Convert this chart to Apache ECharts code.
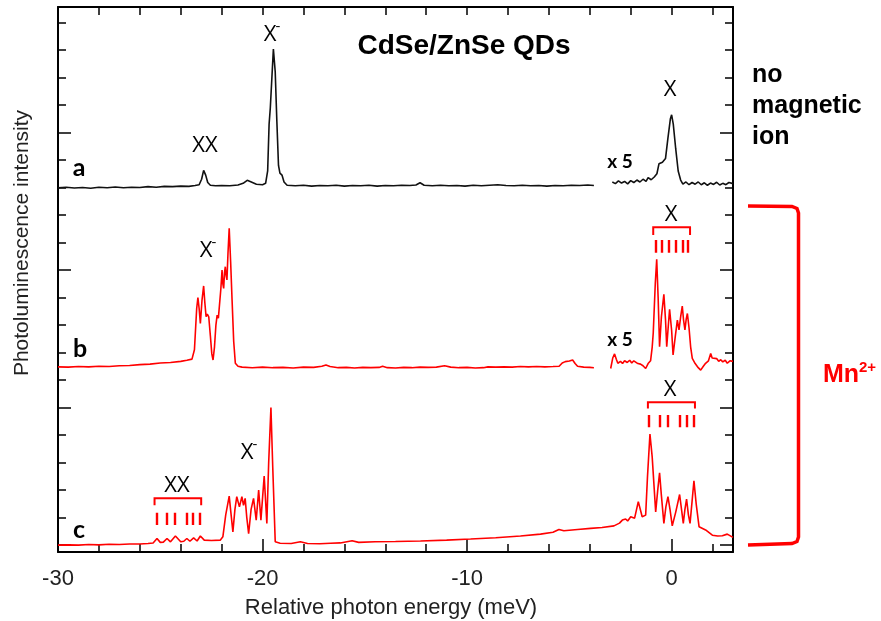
<!DOCTYPE html>
<html><head><meta charset="utf-8">
<script src="https://cdn.jsdelivr.net/npm/echarts@6/dist/echarts.min.js"></script>
<style>html,body{margin:0;padding:0;background:#fff}#c{width:881px;height:621px}</style>
</head><body><div id="c"></div>
<script>
// ---- tick values ----
const xTickLabels = [-30, -20, -10, 0];
const xMinorTicks = [-28, -26, -24, -22, -18, -16, -14, -12, -8, -6, -4, -2, 2];
const xTopTicks = [-28, -26, -24, -22, -20, -18, -16, -14, -12, -10, -8, -6, -4, -2, 0, 2];
const yMajorTicks = [0, 5, 10, 15];
const yMinorTicks = [1, 2, 3, 4, 6, 7, 8, 9, 11, 12, 13, 14, 16, 17, 18, 19];

// ---- spectrum a (no magnetic ion) ----
const specA_left = [[-30.0,12.99],[-29.6,13.01],[-29.2,12.98],[-28.8,13.0],[-28.4,12.97],[-28.0,13.01],[-27.6,12.99],[-27.2,13.02],[-26.8,12.99],[-26.4,13.01],[-26.0,13.0],[-25.6,13.03],[-25.2,13.01],[-24.8,13.04],[-24.4,13.03],[-24.0,13.05],[-23.6,13.04],[-23.3,13.07],[-23.1,13.1],[-22.98,13.3],[-22.88,13.62],[-22.78,13.45],[-22.68,13.18],[-22.55,13.08],[-22.3,13.06],[-22.0,13.07],[-21.6,13.06],[-21.2,13.09],[-20.95,13.15],[-20.75,13.26],[-20.55,13.2],[-20.3,13.12],[-20.0,13.1],[-19.85,13.15],[-19.75,13.6],[-19.68,15.3],[-19.62,15.9],[-19.55,16.9],[-19.47,18.03],[-19.38,17.2],[-19.3,15.4],[-19.22,13.8],[-19.15,13.52],[-19.05,13.45],[-18.95,13.2],[-18.8,13.08],[-18.4,13.06],[-18.0,13.08],[-17.6,13.05],[-17.2,13.07],[-16.8,13.06],[-16.4,13.08],[-16.0,13.05],[-15.6,13.07],[-15.2,13.06],[-14.8,13.08],[-14.4,13.05],[-14.0,13.07],[-13.6,13.06],[-13.2,13.08],[-12.8,13.07],[-12.5,13.09],[-12.3,13.17],[-12.1,13.08],[-11.7,13.06],[-11.3,13.08],[-10.9,13.06],[-10.5,13.07],[-10.1,13.05],[-9.7,13.08],[-9.3,13.06],[-8.9,13.08],[-8.5,13.1],[-8.1,13.07],[-7.7,13.06],[-7.3,13.08],[-6.9,13.06],[-6.5,13.07],[-6.1,13.05],[-5.7,13.07],[-5.3,13.06],[-4.9,13.08],[-4.5,13.07],[-4.1,13.09],[-3.8,13.07]];
const specA_right = [[-2.9,13.2],[-2.75,13.14],[-2.6,13.24],[-2.45,13.16],[-2.3,13.22],[-2.15,13.13],[-2.0,13.25],[-1.85,13.18],[-1.7,13.27],[-1.55,13.2],[-1.4,13.3],[-1.25,13.22],[-1.15,13.36],[-1.0,13.28],[-0.85,13.38],[-0.72,13.5],[-0.62,13.86],[-0.45,13.92],[-0.3,14.05],[-0.18,14.8],[-0.06,15.5],[0.0,15.64],[0.08,15.3],[0.2,14.4],[0.32,13.6],[0.44,13.27],[0.55,13.12],[0.7,13.2],[0.85,13.1],[1.0,13.18],[1.15,13.12],[1.3,13.2],[1.45,13.1],[1.6,13.17],[1.75,13.08],[1.9,13.16],[2.05,13.11],[2.2,13.19],[2.35,13.09],[2.5,13.15],[2.65,13.1],[2.8,13.18],[3.0,13.14]];

// ---- spectrum b (Mn2+) ----
const specB_left = [[-30.0,6.48],[-29.5,6.47],[-29.0,6.49],[-28.5,6.48],[-28.0,6.5],[-27.5,6.49],[-27.0,6.52],[-26.5,6.53],[-26.0,6.56],[-25.5,6.58],[-25.0,6.62],[-24.5,6.64],[-24.0,6.68],[-23.7,6.72],[-23.45,6.76],[-23.33,7.1],[-23.22,8.6],[-23.16,9.0],[-23.1,8.6],[-23.04,8.06],[-22.96,8.9],[-22.88,9.42],[-22.82,8.8],[-22.76,8.3],[-22.7,8.4],[-22.63,8.3],[-22.55,7.6],[-22.48,6.95],[-22.42,6.73],[-22.35,7.2],[-22.28,8.0],[-22.22,8.36],[-22.16,8.25],[-22.11,8.3],[-22.04,9.3],[-21.98,10.0],[-21.94,9.5],[-21.9,9.33],[-21.86,9.9],[-21.82,10.12],[-21.78,9.8],[-21.74,9.64],[-21.69,10.6],[-21.63,11.52],[-21.56,10.3],[-21.49,8.91],[-21.41,7.4],[-21.33,6.61],[-21.2,6.5],[-21.0,6.47],[-20.5,6.45],[-20.0,6.47],[-19.5,6.45],[-19.0,6.46],[-18.5,6.44],[-18.0,6.47],[-17.5,6.46],[-17.1,6.5],[-16.9,6.55],[-16.7,6.49],[-16.3,6.45],[-15.9,6.46],[-15.5,6.44],[-15.1,6.46],[-14.7,6.45],[-14.3,6.46],[-14.13,6.5],[-13.9,6.45],[-13.5,6.44],[-13.1,6.46],[-12.7,6.45],[-12.3,6.47],[-11.9,6.46],[-11.5,6.47],[-11.1,6.52],[-10.8,6.47],[-10.4,6.45],[-10.0,6.46],[-9.6,6.44],[-9.2,6.45],[-8.98,6.48],[-8.6,6.47],[-8.2,6.48],[-7.8,6.47],[-7.4,6.49],[-7.0,6.48],[-6.6,6.49],[-6.2,6.48],[-5.8,6.49],[-5.5,6.5],[-5.35,6.62],[-5.2,6.67],[-5.0,6.69],[-4.84,6.73],[-4.72,6.6],[-4.6,6.5],[-4.3,6.47],[-4.0,6.46],[-3.8,6.45]];
const specB_right = [[-2.98,6.42],[-2.88,6.8],[-2.79,6.95],[-2.7,6.75],[-2.63,6.61],[-2.5,6.68],[-2.4,6.6],[-2.3,6.7],[-2.17,6.64],[-2.05,6.72],[-1.95,6.62],[-1.85,6.7],[-1.76,6.7],[-1.65,6.6],[-1.52,6.58],[-1.4,6.52],[-1.27,6.42],[-1.15,6.6],[-1.03,6.7],[-0.95,7.2],[-0.9,7.7],[-0.8,9.5],[-0.73,10.39],[-0.66,9.0],[-0.59,7.21],[-0.5,8.3],[-0.38,9.12],[-0.3,8.2],[-0.24,7.21],[-0.16,8.0],[-0.1,8.57],[0.0,7.8],[0.07,6.91],[0.18,7.6],[0.28,8.18],[0.36,7.82],[0.44,8.3],[0.52,8.69],[0.58,8.2],[0.65,7.82],[0.71,8.2],[0.77,8.42],[0.85,7.9],[0.93,7.2],[1.01,6.79],[1.15,6.6],[1.3,6.45],[1.42,6.36],[1.55,6.5],[1.66,6.61],[1.8,6.7],[1.91,6.97],[1.98,6.8],[2.07,6.73],[2.2,6.78],[2.3,6.68],[2.4,6.74],[2.5,6.66],[2.62,6.72],[2.72,6.61],[2.85,6.7],[3.0,6.68]];

// ---- spectrum c (Mn2+) ----
const specC = [[-30.0,0.0],[-29.5,0.01],[-29.0,0.0],[-28.5,0.02],[-28.0,0.01],[-27.5,0.03],[-27.0,0.02],[-26.5,0.04],[-26.0,0.04],[-25.6,0.06],[-25.35,0.08],[-25.16,0.24],[-25.0,0.1],[-24.85,0.11],[-24.67,0.24],[-24.5,0.12],[-24.26,0.33],[-24.0,0.12],[-23.85,0.14],[-23.7,0.24],[-23.55,0.14],[-23.37,0.26],[-23.2,0.15],[-23.04,0.33],[-22.85,0.18],[-22.5,0.17],[-22.07,0.18],[-21.94,0.3],[-21.8,1.1],[-21.63,1.78],[-21.55,1.2],[-21.45,0.48],[-21.35,1.3],[-21.26,1.76],[-21.13,1.39],[-21.01,1.76],[-20.93,1.45],[-20.85,1.7],[-20.77,1.0],[-20.68,0.42],[-20.56,1.3],[-20.44,1.7],[-20.31,0.91],[-20.19,2.0],[-20.08,0.91],[-19.92,2.51],[-19.79,0.79],[-19.7,3.0],[-19.59,5.0],[-19.5,2.8],[-19.38,0.12],[-19.14,0.07],[-18.6,0.06],[-18.15,0.12],[-17.8,0.06],[-17.2,0.05],[-16.68,0.07],[-16.2,0.08],[-15.62,0.16],[-15.3,0.1],[-14.5,0.12],[-13.5,0.13],[-12.28,0.15],[-11.0,0.18],[-9.83,0.22],[-8.6,0.27],[-7.39,0.33],[-6.41,0.4],[-5.8,0.47],[-5.51,0.57],[-5.27,0.52],[-4.6,0.57],[-3.96,0.61],[-3.4,0.64],[-2.82,0.7],[-2.55,0.8],[-2.41,0.91],[-2.25,0.95],[-2.15,0.88],[-2.0,1.03],[-1.81,0.98],[-1.63,1.58],[-1.44,1.03],[-1.27,1.09],[-1.18,2.5],[-1.06,4.04],[-0.95,3.2],[-0.78,1.21],[-0.68,2.0],[-0.59,2.63],[-0.5,1.8],[-0.38,0.79],[-0.28,1.4],[-0.18,1.76],[-0.08,1.3],[0.03,0.7],[0.2,1.2],[0.39,1.84],[0.5,1.2],[0.57,0.79],[0.65,1.3],[0.73,1.67],[0.82,1.1],[0.9,0.79],[1.0,1.6],[1.09,2.34],[1.2,1.5],[1.34,0.67],[1.66,0.55],[1.99,0.36],[2.25,0.33],[2.48,0.34],[2.72,0.4],[3.0,0.28]];

// ---- annotation brackets (data units): [xStart, xEnd, yTop, yEnd] and dash positions ----
const bracketBX = [-0.9, 0.9, 11.55, 11.27];
const dashesBX = [-0.78, -0.46, -0.13, 0.2, 0.52, 0.77];
const dashBXRange = [11.09, 10.63];
const bracketCXX = [-25.28, -23.0, 1.7, 1.45];
const dashesCXX = [-25.16, -24.67, -24.3, -23.7, -23.41, -23.09];
const dashCXXRange = [1.18, 0.73];
const bracketCX = [-1.16, 1.14, 5.19, 4.97];
const dashesCX = [-1.11, -0.59, -0.18, 0.39, 0.73, 1.06];
const dashCXRange = [4.73, 4.28];

const RED = '#ff0000';
const chart = echarts.init(document.getElementById('c'), null, {renderer: 'canvas'});

function bracket(b) { return {coords: [[b[0], b[3]], [b[0], b[2]], [b[1], b[2]], [b[1], b[3]]]}; }
function dashes(xs, r) { return xs.map(x => ({coords: [[x, r[0]], [x, r[1]]]})); }

const yMin = -0.25, yMax = 19.56;
const axisLineStyle = {color: '#000', width: 2};
const tickStyle = {color: '#000', width: 1.5};
function yAx(pos, ticks, len, showLine) {
  return {type: 'value', position: pos, min: yMin, max: yMax,
    axisLine: {show: showLine, onZero: false, lineStyle: axisLineStyle},
    axisTick: {show: true, inside: true, length: len, customValues: ticks, lineStyle: tickStyle},
    axisLabel: {show: false}, splitLine: {show: false}};
}
function lineSeries(data, color) {
  return {type: 'line', data: data, showSymbol: false, symbol: 'none', smooth: false,
    lineStyle: {color: color, width: 1.6}, silent: true, animation: false, z: 3};
}
const LBL = 'Liberation Sans, Arial, sans-serif';
function txt(x, y, s, font, fill, extra) {
  return Object.assign({type: 'text', x: x, y: y, silent: true,
    style: {text: s, font: font, fill: fill || '#000', align: 'center', verticalAlign: 'middle'}}, extra || {});
}
function ltxt(x, y, s, font, fill) {
  return {type: 'text', x: x, y: y, silent: true,
    style: {text: s, font: font, fill: fill, align: 'left', verticalAlign: 'middle'}};
}

chart.setOption({
  animation: false,
  backgroundColor: '#fff',
  grid: {left: 58, right: 148, top: 7, bottom: 69, containLabel: false},
  xAxis: [
    {type: 'value', position: 'bottom', min: -30, max: 3,
      axisLine: {show: true, onZero: false, lineStyle: axisLineStyle},
      axisTick: {show: true, inside: true, length: 13, customValues: xTickLabels, lineStyle: tickStyle},
      axisLabel: {customValues: xTickLabels, margin: 16, fontSize: 22, color: '#222', fontFamily: LBL},
      splitLine: {show: false}},
    {type: 'value', position: 'bottom', min: -30, max: 3,
      axisLine: {show: false, onZero: false},
      axisTick: {show: true, inside: true, length: 8, customValues: xMinorTicks, lineStyle: tickStyle},
      axisLabel: {show: false}, splitLine: {show: false}},
    {type: 'value', position: 'top', min: -30, max: 3,
      axisLine: {show: true, onZero: false, lineStyle: axisLineStyle},
      axisTick: {show: true, inside: true, length: 8, customValues: xTopTicks, lineStyle: tickStyle},
      axisLabel: {show: false}, splitLine: {show: false}}
  ],
  yAxis: [
    yAx('left', yMinorTicks, 8, true),
    yAx('left', yMajorTicks, 13, false),
    yAx('right', yMinorTicks, 8, true),
    yAx('right', yMajorTicks, 13, false)
  ],
  series: [
    lineSeries(specA_left, '#111'),
    lineSeries(specA_right, '#111'),
    lineSeries(specB_left, RED),
    lineSeries(specB_right, RED),
    lineSeries(specC, RED),
    {type: 'lines', coordinateSystem: 'cartesian2d', polyline: true, silent: true,
      lineStyle: {color: RED, width: 2, opacity: 1},
      data: [bracket(bracketBX), bracket(bracketCXX), bracket(bracketCX)]},
    {type: 'lines', coordinateSystem: 'cartesian2d', polyline: false, silent: true,
      lineStyle: {color: RED, width: 2.4, opacity: 1},
      data: [].concat(dashes(dashesBX, dashBXRange), dashes(dashesCXX, dashCXXRange), dashes(dashesCX, dashCXRange))}
  ],
  graphic: [
    // axis titles
    txt(22, 243, 'Photoluminescence intensity', '21px ' + LBL, '#222', {rotation: Math.PI / 2}),
    txt(391, 608, 'Relative photon energy (meV)', '22px ' + LBL, '#222'),
    // title
    txt(464, 46, 'CdSe/ZnSe QDs', 'bold 28px ' + LBL, '#000'),
    // spectrum letters
    txt(79, 168, 'a', 'bold 25px Lato, sans-serif', '#000'),
    txt(80, 349, 'b', 'bold 25px Lato, sans-serif', '#000'),
    txt(79, 530, 'c', 'bold 25px Lato, sans-serif', '#000'),
    // peak labels
    txt(205, 146, 'XX', '22px "Open Sans", sans-serif', '#000'),
    txt(270, 35, 'X', '22px "Open Sans", sans-serif', '#000'),
    txt(278, 27, '-', '15px "Open Sans", sans-serif', '#000'),
    txt(670, 90, 'X', '22px "Open Sans", sans-serif', '#000'),
    txt(206, 251, 'X', '22px "Open Sans", sans-serif', '#000'),
    txt(214, 243, '-', '15px "Open Sans", sans-serif', '#000'),
    txt(671, 215, 'X', '22px "Open Sans", sans-serif', '#000'),
    txt(177, 486, 'XX', '22px "Open Sans", sans-serif', '#000'),
    txt(247, 453, 'X', '22px "Open Sans", sans-serif', '#000'),
    txt(255, 445, '-', '15px "Open Sans", sans-serif', '#000'),
    txt(670, 390, 'X', '22px "Open Sans", sans-serif', '#000'),
    // x5 labels
    txt(620, 162, 'x 5', 'bold 19px Lato, sans-serif', '#000'),
    txt(620, 340, 'x 5', 'bold 19px Lato, sans-serif', '#000'),
    // right side
    ltxt(752, 75, 'no', 'bold 25px ' + LBL, '#000'),
    ltxt(752, 106, 'magnetic', 'bold 25px ' + LBL, '#000'),
    ltxt(752, 137, 'ion', 'bold 25px ' + LBL, '#000'),
    {type: 'polyline', silent: true,
      shape: {points: [[748, 206], [792, 206.5], [797, 208.5], [798.5, 213], [798.5, 537], [797, 541.5], [792, 543.5], [748, 545]]},
      style: {stroke: RED, lineWidth: 3.5, fill: null}},
    ltxt(823, 375, 'Mn', 'bold 25px ' + LBL, RED),
    ltxt(859, 368, '2+', 'bold 15px ' + LBL, RED)
  ]
});
</script>
</body></html>
